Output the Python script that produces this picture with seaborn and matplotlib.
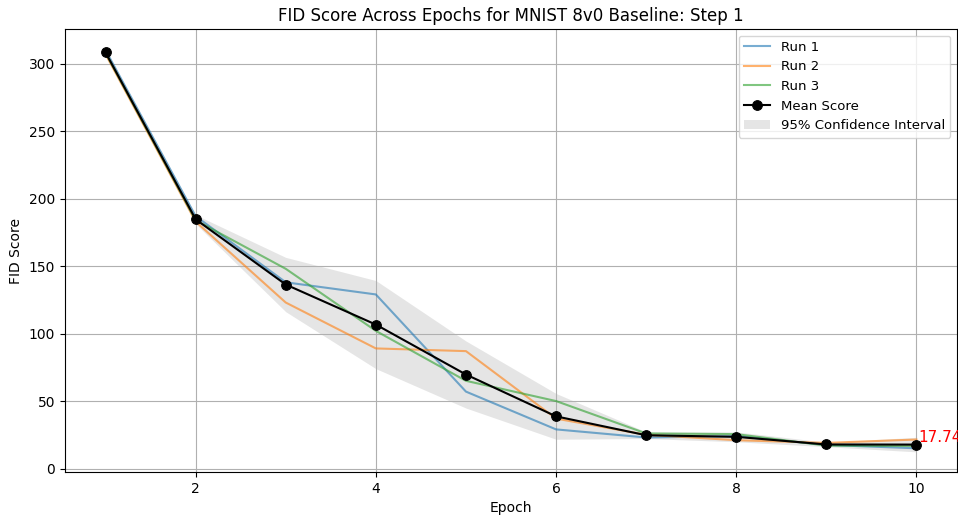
import numpy as np
import pandas as pd
import seaborn as sns
import matplotlib
matplotlib.use('Agg')
from matplotlib import pyplot as plt

epochs = [1, 2, 3, 4, 5, 6, 7, 8, 9, 10]
run1 = [310, 187, 138, 129, 57, 29, 23, 24, 17.5, 15]
run2 = [307, 183, 123, 89, 87, 37, 25, 21, 19, 21.5]
run3 = [308, 184, 148, 102, 65, 50, 26, 25.5, 17, 16.72]

runs = np.array([run1, run2, run3])
mean = runs.mean(axis=0)
std = runs.std(axis=0)
lower = mean - 1.96 * std
upper = mean + 1.96 * std

df = pd.DataFrame({"Epoch": epochs, "Run 1": run1, "Run 2": run2, "Run 3": run3, "Mean": mean})

fig = plt.figure(figsize=(9.58, 5.16), dpi=100)
ax = fig.add_axes([65 / 958, 44 / 516, 892 / 958, 443 / 516])

for name in ["Run 1", "Run 2", "Run 3"]:
    sns.lineplot(data=df, x="Epoch", y=name, label=name, alpha=0.6, lw=1.5, ax=ax)

sns.lineplot(data=df, x="Epoch", y="Mean", color="black", marker="o", markersize=7,
             markeredgecolor="black", lw=1.5, label="Mean Score", ax=ax)
ax.fill_between(epochs, lower, upper, color="gray", alpha=0.2, lw=0, label="95% Confidence Interval")

ax.text(epochs[-1] + 0.02, mean[-1], f"{mean[-1]:.2f}", color="red", fontsize=11, va="bottom")

ax.set_title("FID Score Across Epochs for MNIST 8v0 Baseline: Step 1")
ax.set_xlabel("Epoch")
ax.set_ylabel("FID Score")
ax.grid(True)
ax.legend(loc="upper right", fontsize=9.5)

fig.savefig("out.png", dpi=100)
